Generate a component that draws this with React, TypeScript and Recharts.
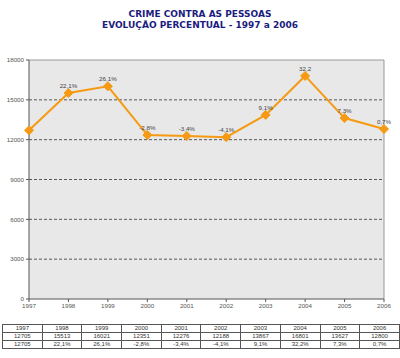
import React from "react";
import {
  LineChart,
  Line,
  XAxis,
  YAxis,
  CartesianGrid,
  LabelList,
  ReferenceLine,
} from "recharts";

const years = ["1997", "1998", "1999", "2000", "2001", "2002", "2003", "2004", "2005", "2006"];
const values = [12705, 15513, 16021, 12351, 12276, 12188, 13867, 16801, 13627, 12800];
const pointLabels = ["", "22,1%", "26,1%", "-2,8%", "-3,4%", "-4,1%", "9,1%", "32,2", "7,3%", "0,7%"];
const tableChange = ["12705", "22,1%", "26,1%", "-2,8%", "-3,4%", "-4,1%", "9,1%", "32,2%", "7,3%", "0,7%"];
const yTicks = [0, 3000, 6000, 9000, 12000, 15000, 18000];
const gridValues = [3000, 6000, 9000, 12000, 15000];

const data = years.map((y, i) => ({ year: y, value: values[i], label: pointLabels[i] }));

const ORANGE = "#f59a12";

const Diamond = (props: any) => {
  const { cx, cy } = props;
  if (cx == null || cy == null) return null;
  const r = 4.5;
  return (
    <polygon
      points={`${cx},${cy - r} ${cx + r},${cy} ${cx},${cy + r} ${cx - r},${cy}`}
      fill={ORANGE}
      stroke={ORANGE}
      strokeWidth={1}
    />
  );
};

const renderLabel = (props: any) => {
  const { x, y, index } = props;
  const t = pointLabels[index];
  if (!t) return null;
  return (
    <text
      x={x}
      y={y - 5}
      textAnchor="middle"
      fontSize={6.2}
      fontFamily="Liberation Sans, Arial, sans-serif"
      fill="#444"
    >
      {t}
    </text>
  );
};

const cellStyle: React.CSSProperties = {
  border: "1px solid #555",
  padding: 0,
  height: 7,
  lineHeight: "7px",
  fontSize: 6,
  textAlign: "center",
  color: "#333",
  fontFamily: "Liberation Sans, Arial, sans-serif",
  overflow: "hidden",
};

export default function App() {
  return (
    <div style={{ position: "absolute", left: 0, top: 0, width: 400, height: 358, background: "#fff" }}>
      <div
        style={{
          position: "absolute",
          left: 0,
          top: 9,
          width: 400,
          textAlign: "center",
          fontFamily: "DejaVu Sans, Verdana, sans-serif",
          fontWeight: "bold",
          fontSize: 9,
          lineHeight: "11px",
          color: "#1c1c7e",
        }}
      >
        <div>CRIME CONTRA AS PESSOAS</div>
        <div>EVOLUÇÃO PERCENTUAL - 1997 a 2006</div>
      </div>
      <div style={{ position: "absolute", left: 0, top: 0 }}>
        <LineChart
          width={400}
          height={358}
          data={data}
          margin={{ top: 60, right: 16, bottom: 39, left: 0 }}
        >
          <CartesianGrid
            vertical={false}
            horizontalValues={gridValues}
            fill="#e8e8e8"
            stroke="#333"
            strokeDasharray="3 2"
            strokeWidth={0.8}
          />
          <XAxis
            dataKey="year"
            height={20}
            tickSize={3}
            axisLine={{ stroke: "#555" }}
            tickLine={{ stroke: "#555" }}
            tick={{ fontSize: 6.2, fill: "#555", fontFamily: "Liberation Sans, Arial, sans-serif" }}
            interval={0}
          />
          <YAxis
            width={29}
            domain={[0, 18000]}
            ticks={yTicks}
            tickSize={3}
            axisLine={{ stroke: "#555" }}
            tickLine={{ stroke: "#555" }}
            tick={{ fontSize: 6.2, fill: "#555", fontFamily: "Liberation Sans, Arial, sans-serif" }}
            interval={0}
          />
          <ReferenceLine y={18000} stroke="#999" strokeWidth={1} />
          <ReferenceLine x="2006" stroke="#999" strokeWidth={1} />
          <Line
            type="linear"
            dataKey="value"
            stroke={ORANGE}
            strokeWidth={2}
            dot={<Diamond />}
            activeDot={false}
            isAnimationActive={false}
          >
            <LabelList dataKey="label" content={renderLabel} />
          </Line>
        </LineChart>
      </div>
      <table
        style={{
          position: "absolute",
          left: 2,
          top: 324,
          width: 398,
          borderCollapse: "collapse",
          tableLayout: "fixed",
        }}
      >
        <tbody>
          <tr>
            {years.map((y) => (
              <td key={y} style={cellStyle}>{y}</td>
            ))}
          </tr>
          <tr>
            {values.map((v, i) => (
              <td key={i} style={cellStyle}>{v}</td>
            ))}
          </tr>
          <tr>
            {tableChange.map((c, i) => (
              <td key={i} style={cellStyle}>{c}</td>
            ))}
          </tr>
        </tbody>
      </table>
    </div>
  );
}
